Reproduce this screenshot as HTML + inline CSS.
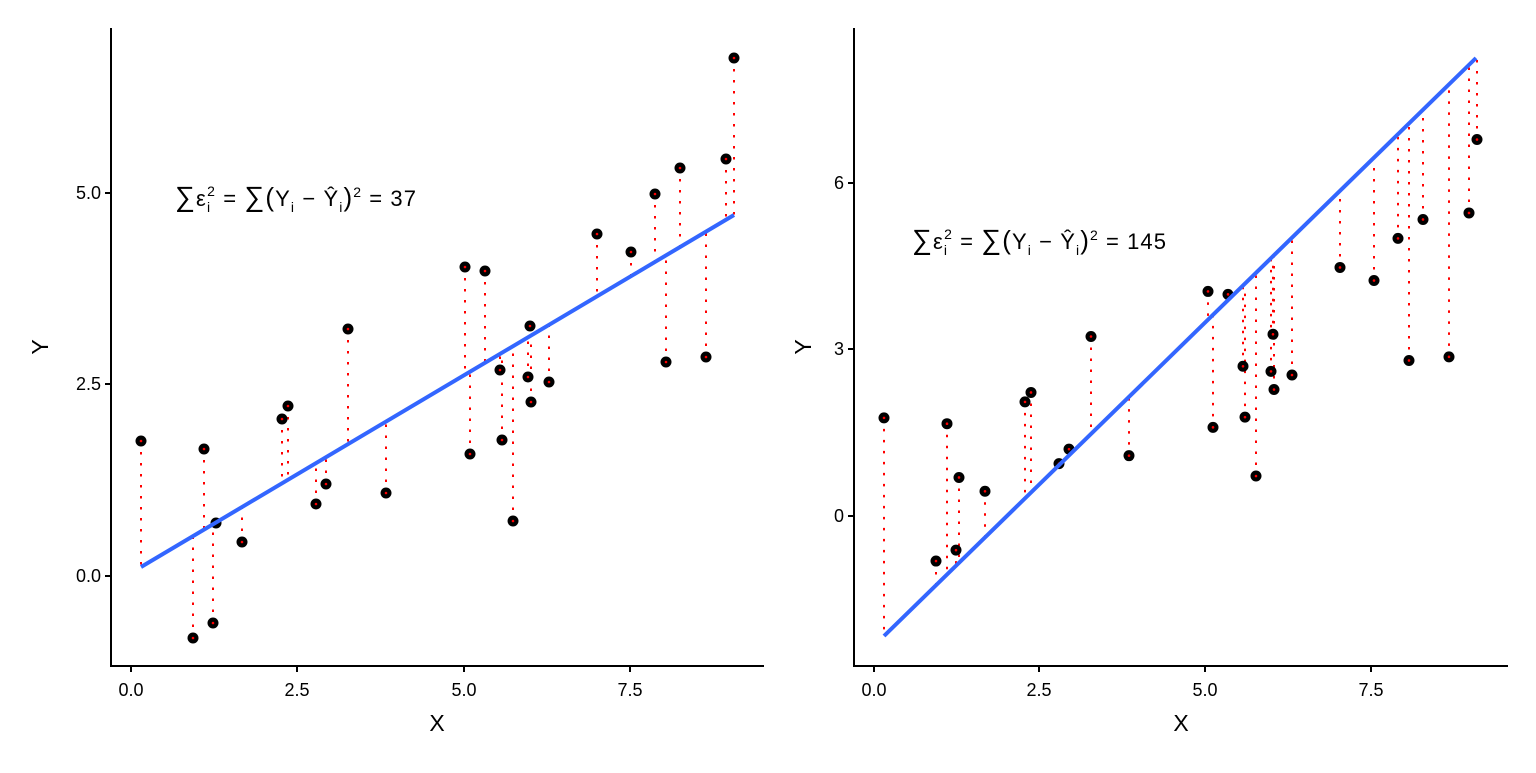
<!DOCTYPE html>
<html><head><meta charset="utf-8"><style>
body{margin:0;background:#fff;width:1536px;height:768px;overflow:hidden}
svg text{font-family:"Liberation Sans",sans-serif}
</style></head><body>
<svg id="s" width="1536" height="768" xmlns="http://www.w3.org/2000/svg">
<rect width="1536" height="768" fill="#fff"/>
<g id="g1"></g><g id="g2"></g>
<g stroke="#000" stroke-width="2" fill="none">
<path d="M111,28 V666 H764"/>
<path d="M854,28 V666 H1508"/>
<path d="M131,666v6M297,666v6M464,666v6M630,666v6"/>
<path d="M105,193h6M105,384h6M105,576h6"/>
<path d="M874,666v6M1039,666v6M1205,666v6M1371,666v6"/>
<path d="M848,183h6M848,349h6M848,516h6"/>
</g>
<g font-size="18" fill="#000" text-anchor="middle">
<text x="131" y="696">0.0</text><text x="297" y="696">2.5</text><text x="464" y="696">5.0</text><text x="630" y="696">7.5</text>
<text x="874" y="696">0.0</text><text x="1039" y="696">2.5</text><text x="1205" y="696">5.0</text><text x="1371" y="696">7.5</text>
</g>
<g font-size="18" fill="#000" text-anchor="end">
<text x="101" y="199">5.0</text><text x="101" y="390">2.5</text><text x="101" y="582">0.0</text>
<text x="844" y="189">6</text><text x="844" y="355">3</text><text x="844" y="522">0</text>
</g>
<g font-size="23" fill="#000" text-anchor="middle">
<text x="437" y="731">X</text><text x="1181" y="731">X</text>
<text transform="translate(48,347) rotate(-90)">Y</text>
<text transform="translate(811,347) rotate(-90)">Y</text>
</g>
<g font-size="22" fill="#000">
<text x="175" y="206" textLength="241"><tspan font-size="28">∑</tspan>ε<tspan font-size="14" dy="6">i</tspan><tspan font-size="14" dx="-4" dy="-16">2</tspan><tspan dy="10"> = </tspan><tspan font-size="28">∑</tspan><tspan font-size="26">(</tspan>Y<tspan font-size="14" dy="6">i</tspan><tspan dy="-6"> − Ŷ</tspan><tspan font-size="14" dy="6">i</tspan><tspan font-size="26" dy="-6">)</tspan><tspan font-size="14" dy="-9">2</tspan><tspan dy="9"> = 37</tspan></text>
<text x="912" y="249" textLength="254"><tspan font-size="28">∑</tspan>ε<tspan font-size="14" dy="6">i</tspan><tspan font-size="14" dx="-4" dy="-16">2</tspan><tspan dy="10"> = </tspan><tspan font-size="28">∑</tspan><tspan font-size="26">(</tspan>Y<tspan font-size="14" dy="6">i</tspan><tspan dy="-6"> − Ŷ</tspan><tspan font-size="14" dy="6">i</tspan><tspan font-size="26" dy="-6">)</tspan><tspan font-size="14" dy="-9">2</tspan><tspan dy="9"> = 145</tspan></text>
</g>
</svg>
<script>
var P=[[141,441],[193,638],[204,449],[213,623],[216,523],[242,542],[282,419],[288,406],[316,504],[326,484],[348,329],[386,493],[465,267],[470,454],[485,271],[500,370],[502,440],[513,521],[528,377],[530,326],[531,402],[549,382],[597,234],[631,252],[655,194],[666,362],[680,168],[706,357],[726,159],[734,58]];
var NS="http://www.w3.org/2000/svg";
function el(p,t,a){var e=document.createElementNS(NS,t);for(var k in a)e.setAttribute(k,a[k]);p.appendChild(e);return e;}
function draw(g,pts,lf){
 pts.forEach(function(p){var ly=lf(p[0]);el(g,'line',{x1:p[0],y1:p[1],x2:p[0],y2:ly,stroke:'#f00','stroke-width':2,'stroke-dasharray':'2.5 8.5'});});
 pts.forEach(function(p){el(g,'circle',{cx:p[0],cy:p[1],r:5.5,fill:'#000'});el(g,'circle',{cx:p[0],cy:p[1],r:1.3,fill:'#f00'});});
}
var g1=document.getElementById('g1'),g2=document.getElementById('g2');
draw(g1,P,function(x){return 567-0.5936*(x-141);});
el(g1,'line',{x1:141,y1:567,x2:734,y2:215,stroke:'#3366FF','stroke-width':4});
var P2=P.map(function(p){var Y=(576-p[1])/76.6;return [p[0]+743,516-55.67*Y];});
draw(g2,P2,function(x){return 636-0.976*(x-884);});
el(g2,'line',{x1:884,y1:636,x2:1476,y2:58,stroke:'#3366FF','stroke-width':4});
</script>
</body></html>
